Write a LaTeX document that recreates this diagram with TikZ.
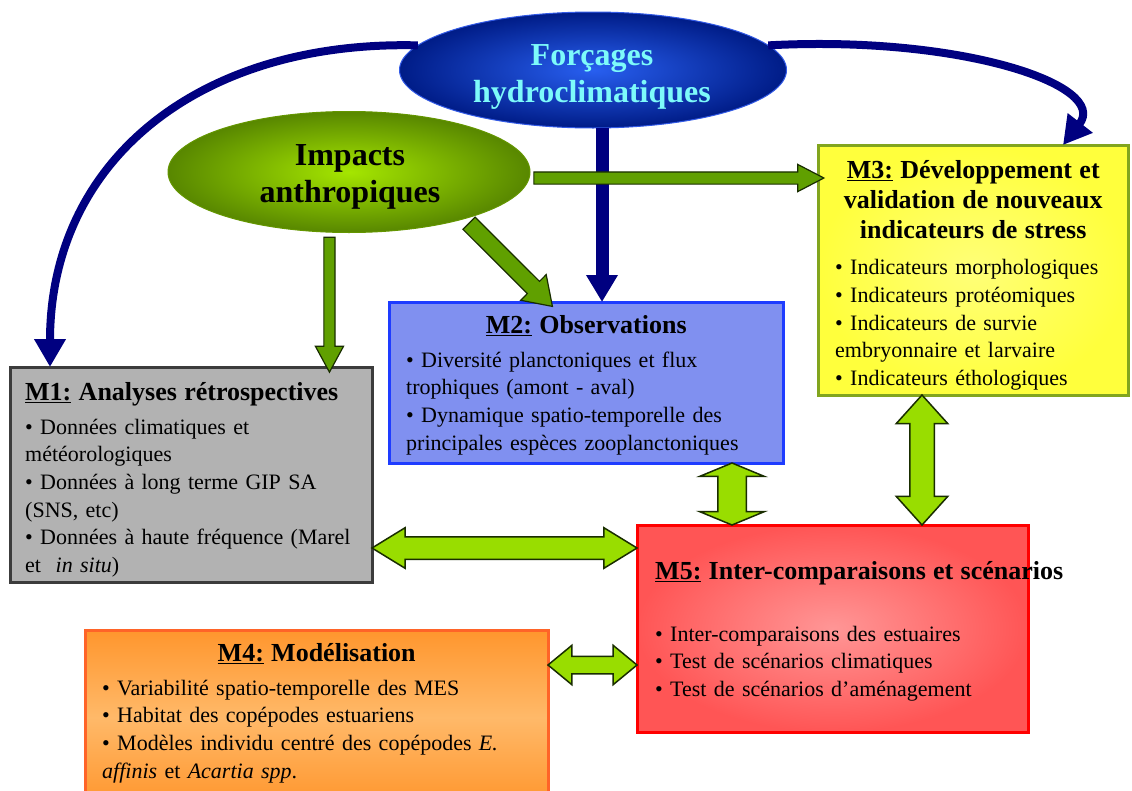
\documentclass[tikz,border=0pt]{standalone}
\usepackage{fontspec}
\setmainfont{Liberation Serif}
\usetikzlibrary{shapes.geometric,shapes.arrows,arrows.meta,calc}

\definecolor{navy}{RGB}{0,0,128}
\definecolor{forcin}{RGB}{40,95,240}
\definecolor{forcout}{RGB}{0,28,135}
\definecolor{forcline}{RGB}{50,90,230}
\definecolor{cyantxt}{RGB}{125,250,250}
\definecolor{impin}{RGB}{165,230,0}
\definecolor{impout}{RGB}{88,135,0}
\definecolor{impline}{RGB}{100,150,0}
\definecolor{arrgreen}{RGB}{96,160,0}
\definecolor{arrlime}{RGB}{153,221,0}
\definecolor{arrline}{RGB}{25,45,0}
\definecolor{mgray}{RGB}{178,178,178}
\definecolor{mgrayline}{RGB}{60,60,60}
\definecolor{mblue}{RGB}{128,144,240}
\definecolor{mblueline}{RGB}{30,60,255}
\definecolor{myellow}{RGB}{255,255,60}
\definecolor{myellowin}{RGB}{255,255,120}
\definecolor{myellowline}{RGB}{130,165,30}
\definecolor{morange}{RGB}{255,150,45}
\definecolor{morangelt}{RGB}{255,185,105}
\definecolor{morangeline}{RGB}{255,100,40}
\definecolor{mred}{RGB}{255,85,85}
\definecolor{mredin}{RGB}{255,150,150}
\definecolor{mredline}{RGB}{255,0,0}

\newcommand\ellfont{\fontsize{32}{37}\selectfont\bfseries}
\newcommand\ttlfont{\fontsize{26}{30}\selectfont\bfseries}
\newcommand\txtfont{\fontsize{22}{27.6}\selectfont}
\newcommand\firstline{\rule{0pt}{20pt}}
% block arrow shape laid from one point to another
\newcommand\blockarrow[4]{%
  \path let \p1=(#2), \p2=(#3),
    \n1={veclen(\x2-\x1,\y2-\y1)}, \n2={atan2(\y2-\y1,\x2-\x1)} in
    node[#1, minimum height=\n1, rotate=\n2] (#4) at ($(\p1)!.5!(\p2)$) {};}

\tikzset{
  mbox/.style={rectangle, line width=3pt, anchor=north west, inner sep=0pt, outer sep=0pt},
  mtext/.style={anchor=north west, inner sep=0pt, text width=#1, align=left, font=\txtfont},
  bubble/.style={ellipse, inner sep=0pt, outer sep=0pt, line width=1pt},
  bubbletext/.style={anchor=north, inner sep=0pt, align=center, font=\ellfont},
  navyline/.style={draw=navy, line width=8pt, -{Triangle[width=30pt,length=28pt]}},
  greenarr/.style={single arrow, draw=arrline, fill=arrgreen, line width=1.2pt, outer sep=0pt},
  limearr/.style={double arrow, draw=arrline, fill=arrlime, line width=1.5pt, outer sep=0pt}
}

\begin{document}
\begin{tikzpicture}[x=1pt,y=-1pt]
\useasboundingbox (0,0) rectangle (1132,790);
\fill[white] (0,0) rectangle (1132,790);

% ellipses
\node[bubble, draw=forcline, inner color=forcin, outer color=forcout,
  minimum width=387pt, minimum height=116pt] (forc) at (593,70) {};
\node[bubbletext, text=cyantxt] (forct) at (592,41) {\rule{0pt}{24pt}Forçages\\hydroclimatiques};
\node[bubble, draw=impline, inner color=impin, outer color=impout,
  minimum width=362pt, minimum height=121pt] (imp) at (349,172) {};
\node[bubbletext] (impt) at (350,141) {\rule{0pt}{24pt}Impacts\\anthropiques};

% boxes
\node[mbox, draw=mgrayline, fill=mgray, minimum width=362pt, minimum height=215pt] (m1) at (10,367) {};
\node[mtext=340pt] (m1t) at ($(m1.north west)+(15,13)$) {{\ttlfont\firstline\underline{M1:} Analyses rétrospectives\par}\vskip6.4pt
\textbullet\ Données climatiques et\\ météorologiques\\ \textbullet\ Données à long terme GIP SA\\ (SNS, etc)\\ \textbullet\ Données à haute fréquence (Marel\\ et \ \textit{in situ})};

\node[mbox, draw=mblueline, fill=mblue, minimum width=394pt, minimum height=161pt] (m2) at (389,302) {};
\node[mtext=360pt] (m2t) at ($(m2.north west)+(17,11)$) {{\ttlfont\centering\firstline\underline{M2:} Observations\par}\vskip6.4pt
\textbullet\ Diversité planctoniques et flux\\ trophiques (amont - aval)\\ \textbullet\ Dynamique spatio-temporelle des\\ principales espèces zooplanctoniques};

\node[mbox, draw=myellowline, inner color=myellowin, outer color=myellow, minimum width=310pt, minimum height=250pt] (m3) at (818,145) {};
\node[mtext=276pt] (m3t) at ($(m3.north west)+(17,13)$) {{\ttlfont\centering\firstline\underline{M3:} Développement et\\ validation de nouveaux\\ indicateurs de stress\par}\vskip9pt
\textbullet\ Indicateurs morphologiques\\ \textbullet\ Indicateurs protéomiques\\ \textbullet\ Indicateurs de survie\\ embryonnaire et larvaire\\ \textbullet\ Indicateurs éthologiques};

\node[mbox, draw=morangeline, top color=morange, bottom color=morange, middle color=morangelt, minimum width=463pt, minimum height=175pt] (m4) at (85,630) {};
\node[mtext=429pt] (m4t) at ($(m4.north west)+(17,11)$) {{\ttlfont\centering\firstline\underline{M4:} Modélisation\par}\vskip6.4pt
\textbullet\ Variabilité spatio-temporelle des MES\\ \textbullet\ Habitat des copépodes estuariens\\ \textbullet\ Modèles individu centré des copépodes \textit{E.}\\ \textit{affinis} et \textit{Acartia spp}.};

\node[mbox, draw=mredline, inner color=mredin, outer color=mred, minimum width=391pt, minimum height=207pt] (m5) at (637,525) {};
\node[mtext=420pt] (m5t) at ($(m5.north west)+(18,34)$) {{\ttlfont\firstline\underline{M5:} Inter-comparaisons et scénarios\par}\vskip34.4pt
\textbullet\ Inter-comparaisons des estuaires\\ \textbullet\ Test de scénarios climatiques\\ \textbullet\ Test de scénarios d’aménagement};

% blue arrows
\coordinate (m1in) at ($(m1.north west)+(40,0)$);
\coordinate (m2in) at ($(m2.north west)+(213,0)$);
\coordinate (m3in) at ($(m3.north west)+(245,0)$);
\draw[navyline] (forc.172) .. controls (200,40) and (50,160) .. (m1in);
\draw[navyline] (forc.8) .. controls (960,35) and (1110,85) .. (m3in);
\draw[navyline, line width=13pt, -{Triangle[width=30pt,length=27pt]}] (forc.south -| m2in) -- (m2in);

% green arrows
\coordinate (g3s) at ($(imp.east)+(-2,6)$);
\blockarrow{greenarr, inner sep=5pt, single arrow head extend=8.5pt, single arrow tip angle=57}{imp.252}{imp.252 |- m1.north}{g1}
\blockarrow{greenarr, inner sep=8pt, single arrow head extend=9.5pt, single arrow tip angle=68}{imp.-22}{$(m2.north west)+(159,0)$}{g2}
\blockarrow{greenarr, inner sep=5.5pt, single arrow head extend=7.5pt, single arrow tip angle=55}{g3s}{g3s -| m3.west}{g3}

% double arrows
\coordinate (dAs) at ($(m1.north east)+(0,181)$);
\coordinate (dBs) at ($(m2.south west)+(343,0)$);
\coordinate (dCs) at ($(m3.south west)+(104,0)$);
\coordinate (dDs) at ($(m4.north east)+(0,35)$);
\blockarrow{limearr, inner sep=10.5pt, double arrow head extend=9pt, double arrow tip angle=63}{dAs}{dAs -| m5.west}{dA}
\blockarrow{limearr, inner sep=13.5pt, double arrow head extend=18pt, double arrow tip angle=135}{dBs}{dBs |- m5.north}{dB}
\blockarrow{limearr, inner sep=11.5pt, double arrow head extend=13.5pt, double arrow tip angle=84}{dCs}{dCs |- m5.north}{dC}
\blockarrow{limearr, inner sep=8pt, double arrow head extend=11pt, double arrow tip angle=79}{dDs}{dDs -| m5.west}{dD}
\end{tikzpicture}
\end{document}
